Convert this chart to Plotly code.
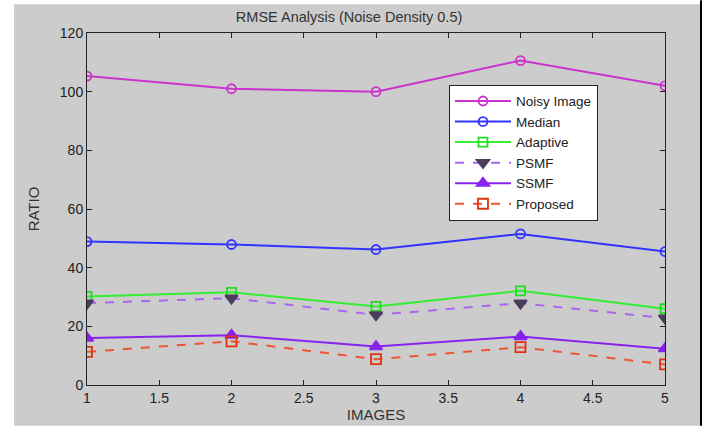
import plotly.graph_objects as go

images = [1, 2, 3, 4, 5]
noisy = [105.3, 101.0, 100.0, 110.6, 102.0]
median = [48.9, 47.9, 46.2, 51.5, 45.5]
adaptive = [30.2, 31.6, 26.8, 32.1, 26.0]
psmf = [27.9, 29.6, 23.9, 27.9, 22.8]
ssmf = [16.0, 17.0, 13.1, 16.5, 12.4]
proposed = [11.3, 14.9, 8.8, 12.9, 7.0]

xticks = [1, 1.5, 2, 2.5, 3, 3.5, 4, 4.5, 5]
yticks = [0, 20, 40, 60, 80, 100, 120]

fig = go.Figure()

def add(name, y, color, dash, symbol, mcolor, size):
    fig.add_trace(go.Scatter(
        x=images, y=y, name=name, mode="lines+markers",
        line=dict(color=color, width=2, dash=dash),
        marker=dict(symbol=symbol, size=size, color=mcolor,
                    line=dict(color=mcolor, width=1.8)),
    ))

add("Noisy Image", noisy, "#cc33cc", "solid", "circle-open", "#cc33cc", 9)
add("Median", median, "#3333ff", "solid", "circle-open", "#3333ff", 9)
add("Adaptive", adaptive, "#33ee33", "solid", "square-open", "#22dd22", 9)
add("PSMF", psmf, "#aa66ee", "dash", "triangle-down", "#4d3d5d", 11)
add("SSMF", ssmf, "#8822ee", "solid", "triangle-up", "#8822ee", 11)
add("Proposed", proposed, "#ee5533", "dash", "square-open", "#dd3311", 10)

L, R, T, B = 87, 38, 33, 41
W, H = 703, 428
pw, ph = W - L - R, H - T - B

def px(x):
    return (x - L) / pw

def py(y):
    return (H - B - y) / ph

fig.add_shape(type="rect", xref="paper", yref="paper",
              x0=px(14), x1=px(700), y0=py(428), y1=py(4),
              fillcolor="#cccccc", line=dict(width=0), layer="below")
fig.add_shape(type="line", xref="paper", yref="paper",
              x0=px(701), x1=px(701), y0=py(428), y1=py(0),
              line=dict(color="black", width=2))

FONT = "Arial, Liberation Sans"
axis_common = dict(showgrid=False, zeroline=False, ticks="inside", ticklen=5,
                   tickcolor="#222222", showline=True, linecolor="#222222",
                   linewidth=1, mirror="ticks",
                   tickfont=dict(family=FONT, size=14, color="#222222"))

fig.update_layout(
    width=W, height=H,
    margin=dict(l=L, r=R, t=T, b=B),
    paper_bgcolor="white",
    plot_bgcolor="white",
    title=dict(text="RMSE Analysis (Noise Density 0.5)", x=px(374), xanchor="center",
               y=1 - 17 / H, yanchor="middle",
               font=dict(family=FONT, size=14.5, color="#333333")),
    xaxis=dict(range=[1, 5], tickvals=xticks, ticktext=[str(v) for v in xticks],
               title=dict(text="IMAGES", standoff=0,
                          font=dict(family=FONT, size=15, color="#333333")),
               **axis_common),
    yaxis=dict(range=[0, 120], tickvals=yticks,
               title=dict(text="RATIO", standoff=16,
                          font=dict(family=FONT, size=15, color="#333333")),
               **axis_common),
    legend=dict(x=px(449), y=py(85), xanchor="left", yanchor="top",
                bgcolor="white", bordercolor="#222222", borderwidth=1,
                font=dict(family=FONT, size=13.5, color="#222222"),
                tracegroupgap=0, itemwidth=56),
    showlegend=True,
)

fig.write_html("out.html")
